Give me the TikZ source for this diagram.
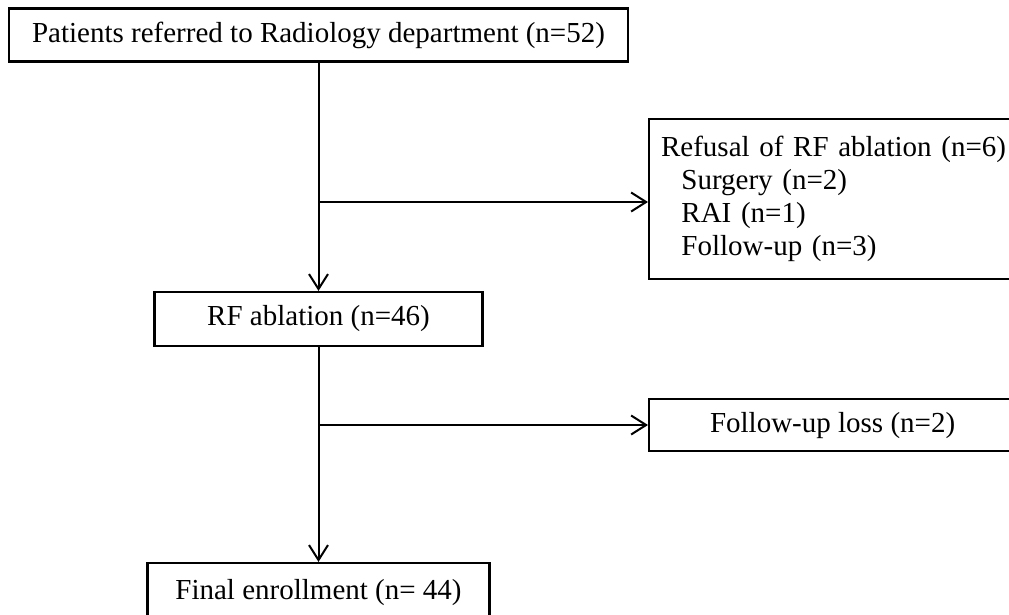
\documentclass[tikz,border=0pt]{standalone}
\usepackage{fontspec}
\setmainfont{Liberation Serif}
\usepackage{tikz}
\usetikzlibrary{arrows.meta, positioning, calc}
\tikzset{
  fbox/.style={draw=black, fill=white, line width=2.2pt, inner sep=0pt,
               font=\fontsize{29}{33}\selectfont},
  arr/.style={-{Straight Barb[length=15pt, width=19pt, line width=2pt]}, line width=2pt},
}

\begin{document}
\begin{tikzpicture}[x=1pt, y=-1pt,
    sidebox/.style={fbox, anchor=north west, minimum width=367pt}]
  \useasboundingbox (0,0) rectangle (1009,614);
  \node[fbox, minimum width=619pt, minimum height=53pt] (patients) at (318.5,35) {Patients referred to Radiology department (n=52)};
  \node[sidebox, minimum height=160pt, text width=360pt, inner xsep=12pt, align=left] (refusal) at (648,118)
    {Refusal of RF ablation (n=6)\\
     \hspace*{0.7em}Surgery (n=2)\\
     \hspace*{0.7em}RAI (n=1)\\
     \hspace*{0.7em}Follow-up (n=3)};
  \node[fbox, minimum width=328pt, minimum height=54pt] (ablation) at (318.5,319) {RF ablation (n=46)};
  \node[sidebox, minimum height=52pt] (loss) at (648,398) {Follow-up loss (n=2)};
  \node[fbox, minimum width=342pt, minimum height=60pt] (final) at (318.5,593) {Final enrollment (n= 44)};
  \coordinate (b1) at (318.5,202);
  \coordinate (b2) at (318.5,425);
  \draw[arr] (patients.south) -- (ablation.north);
  \draw[arr] (ablation.south) -- (final.north);
  \draw[arr] (b1) -- (b1 -| refusal.west);
  \draw[arr] (b2) -- (b2 -| loss.west);
\end{tikzpicture}
\end{document}
